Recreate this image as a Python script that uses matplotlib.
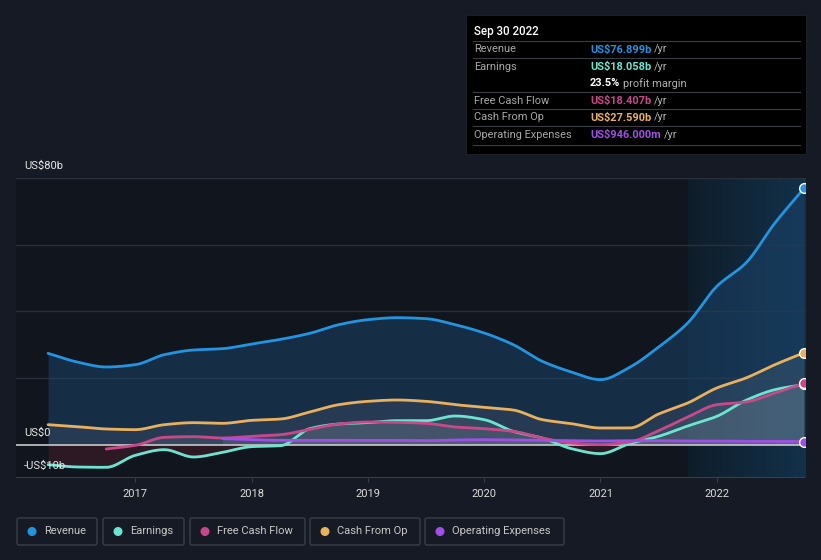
import numpy as np
import pandas as pd
import matplotlib
matplotlib.use("Agg")
import matplotlib.pyplot as plt
from matplotlib.patches import FancyBboxPatch, Rectangle, Circle
from matplotlib.colors import LinearSegmentedColormap

plt.rcParams['font.family'] = ['Roboto', 'DejaVu Sans']

# ---------------- data (US$ billions, trailing twelve months) ----------------
quarters = pd.date_range("2016-03-31", "2022-09-30", freq="QE")
revenue = [27.4, 24.8, 23.3, 24.0, 27.0, 28.4, 28.8, 30.2, 31.6, 33.4, 36.0, 37.5, 38.1, 37.8,
           36.0, 33.5, 30.0, 25.0, 21.8, 19.5, 23.2, 29.3, 36.5, 47.5, 54.5, 66.5, 76.899]
earnings = [-6.0, -6.7, -6.8, -3.2, -1.5, -3.7, -2.3, -0.6, -0.3, 4.8, 6.2, 6.6, 7.2, 7.2,
            8.6, 7.5, 4.0, 2.0, -1.2, -2.7, 0.3, 2.5, 5.6, 8.5, 13.3, 16.5, 18.058]
free_cash_flow = [np.nan, np.nan, -1.3, -0.2, 2.2, 2.4, 2.0, 2.5, 3.0, 4.6, 6.2, 6.8, 6.7, 6.4,
                  5.3, 4.8, 4.0, 2.0, 0.5, 0.0, 0.8, 4.2, 8.3, 12.0, 12.8, 15.5, 18.407]
cash_from_op = [6.0, 5.4, 4.7, 4.5, 6.0, 6.6, 6.4, 7.3, 7.7, 9.8, 12.0, 13.0, 13.4, 13.0,
                12.0, 11.2, 10.4, 7.5, 6.3, 5.0, 5.0, 9.2, 12.5, 17.0, 20.0, 24.0, 27.59]
operating_expenses = [np.nan, np.nan, np.nan, np.nan, np.nan, np.nan, 1.8, 1.5, 1.3, 1.3, 1.3,
                      1.3, 1.3, 1.2, 1.4, 1.5, 1.4, 1.3, 1.2, 1.1, 1.2, 1.2, 1.1, 1.1, 1.0, 1.0, 0.946]

year_ticks = [2017, 2018, 2019, 2020, 2021, 2022]
y_labels = {80: "US$80b", 0: "US$0", -10: "-US$10b"}

series_names = ["Revenue", "Earnings", "Free Cash Flow", "Cash From Op", "Operating Expenses"]
series_colors = ["#2394df", "#6ce5d0", "#c9488a", "#e9b15e", "#a24ee8"]
tooltip_values = ["US$76.899b", "US$18.058b", "US$18.407b", "US$27.590b", "US$946.000m"]

# ---------------- helpers ----------------
def dec_year(d):
    return d.year + d.month / 12.0

xq = np.array([dec_year(d) for d in quarters])


def monotone(x, y, n=20):
    """Monotone cubic (Fritsch-Carlson) for drawing a smooth curve."""
    x = np.asarray(x, float); y = np.asarray(y, float)
    h = np.diff(x); d = np.diff(y) / h
    m = np.zeros_like(y)
    m[0] = d[0]; m[-1] = d[-1]
    for k in range(1, len(y) - 1):
        if d[k - 1] * d[k] > 0:
            w1 = 2 * h[k] + h[k - 1]; w2 = h[k] + 2 * h[k - 1]
            m[k] = (w1 + w2) / (w1 / d[k - 1] + w2 / d[k])
    xs, ys = [], []
    for k in range(len(x) - 1):
        t = np.linspace(0, 1, n, endpoint=False)
        h00 = 2 * t**3 - 3 * t**2 + 1; h10 = t**3 - 2 * t**2 + t
        h01 = -2 * t**3 + 3 * t**2; h11 = t**3 - t**2
        xs.append(x[k] + t * h[k])
        ys.append(h00 * y[k] + h10 * h[k] * m[k] + h01 * y[k + 1] + h11 * h[k] * m[k + 1])
    xs.append([x[-1]]); ys.append([y[-1]])
    return np.concatenate(xs), np.concatenate(ys)


W, H = 821, 560
fig = plt.figure(figsize=(W / 100, H / 100), dpi=100)
BG = "#151a24"
fig.patch.set_facecolor(BG)

# plot axes in pixel placement
L, R, T, B = 16, 805, 178, 478
ax = fig.add_axes([L / W, 1 - B / H, (R - L) / W, (B - T) / H])
ax.set_facecolor("#11151d")
x0 = xq[0] - (48 - L) / 116.0
x1 = xq[-1] + 1.0 / 116.0
ax.set_xlim(x0, x1)
ax.set_ylim(-10, 80)

# highlighted last year (horizontal gradient)
cmap = LinearSegmentedColormap.from_list("hl", ["#0f1d29", "#12314b"])
grad = np.linspace(0, 1, 256).reshape(1, -1)
ax.imshow(grad, extent=[2021.75, x1, -10, 80], aspect="auto", cmap=cmap, zorder=0,
          interpolation="bilinear")
ax.set_xlim(x0, x1)
ax.set_ylim(-10, 80)

for g in [20, 40, 60, 80]:
    ax.axhline(g, color="#2a303b", lw=1, zorder=1)

all_series = [revenue, earnings, free_cash_flow, cash_from_op, operating_expenses]
for i, (vals, col) in enumerate(zip(all_series, series_colors)):
    v = np.asarray(vals, float)
    ok = ~np.isnan(v)
    sx, sy = monotone(xq[ok], v[ok])
    if i == 0:
        ax.fill_between(sx, 0, sy, color="#1b4268", alpha=0.55, lw=0, zorder=2)
    else:
        ax.fill_between(sx, 0, np.maximum(sy, 0), color="#ffffff", alpha=0.07, lw=0, zorder=2)
        ax.fill_between(sx, 0, np.minimum(sy, 0), color="#c0304c", alpha=0.16, lw=0, zorder=2)
    ax.plot(sx, sy, color=col, lw=2.0, zorder=4 + (1 if i == 4 else 0), solid_capstyle="round")
    ax.plot([xq[-1]], [v[-1]], "o", ms=7, mfc=col, mec="white", mew=1.0, zorder=6, clip_on=True)

ax.axhline(0, color="#c8c8c8", lw=1.2, zorder=3)
ax.axhline(-10, color="#3a404b", lw=1.5, zorder=3)

ax.set_xticks(year_ticks)
ax.set_xticklabels([str(y) for y in year_ticks], color="#dcdcdc", fontsize=8)
ax.tick_params(axis="x", length=3, color="#3a404b", pad=5)
ax.set_yticks([])
for s in ax.spines.values():
    s.set_visible(False)

# overlay in pixel coordinates
ov = fig.add_axes([0, 0, 1, 1], facecolor="none")
ov.set_xlim(0, W); ov.set_ylim(H, 0); ov.axis("off")

ov.text(24, 166, y_labels[80], color="#e8e8e8", fontsize=8, va="center", ha="left")
ov.text(24, 433, y_labels[0], color="#e8e8e8", fontsize=8, va="center", ha="left")
ov.text(24, 466, y_labels[-10], color="#e8e8e8", fontsize=8, va="center", ha="left")

# tooltip box
ov.add_patch(Rectangle((466, 15), 340, 139, facecolor="#000000", edgecolor="#1c1f26", lw=0.8))
ov.text(474, 31, "Sep 30 2022", color="white", fontsize=8.3, va="center", ha="left", fontweight="medium")
for ly in [41, 58, 92, 109, 126, 145]:
    ov.plot([473, 800], [ly, ly], color="#3a3d44", lw=0.8)
rows_y = [49.5, 66.5, 100.5, 117.5, 135]
fig.canvas.draw()
rend = fig.canvas.get_renderer()
for name, val, col, ry in zip(series_names, tooltip_values, series_colors, rows_y):
    ov.text(474, ry, name, color="#a8a8a8", fontsize=7.9, va="center", ha="left")
    t = ov.text(590, ry, val, color=col, fontsize=7.9, va="center", ha="left", fontweight="bold")
    bb = t.get_window_extent(renderer=rend)
    ov.text(590 + bb.width + 3, ry, "/yr", color="#b0b0b0", fontsize=7.9, va="center", ha="left")
t = ov.text(590, 83.5, "23.5%", color="white", fontsize=7.9, va="center", ha="left", fontweight="bold")
bb = t.get_window_extent(renderer=rend)
ov.text(590 + bb.width + 3, 83.5, "profit margin", color="#b0b0b0", fontsize=7.9, va="center", ha="left")

# legend
leg_boxes = [(17, 97), (103, 184), (190, 305), (310, 420), (425, 564)]
for (lx0, lx1), name, col in zip(leg_boxes, series_names, series_colors):
    ov.add_patch(FancyBboxPatch((lx0, 518), lx1 - lx0, 27, boxstyle="round,pad=0,rounding_size=2",
                                facecolor="none", edgecolor="#3a3f4a", lw=1))
    ov.add_patch(Circle((lx0 + 15, 531.5), 3.8, color=col))
    ov.text(lx0 + 27, 531, name, color="#c8c8c8", fontsize=8, va="center", ha="left")

fig.savefig("out.png", dpi=100, facecolor=BG)
